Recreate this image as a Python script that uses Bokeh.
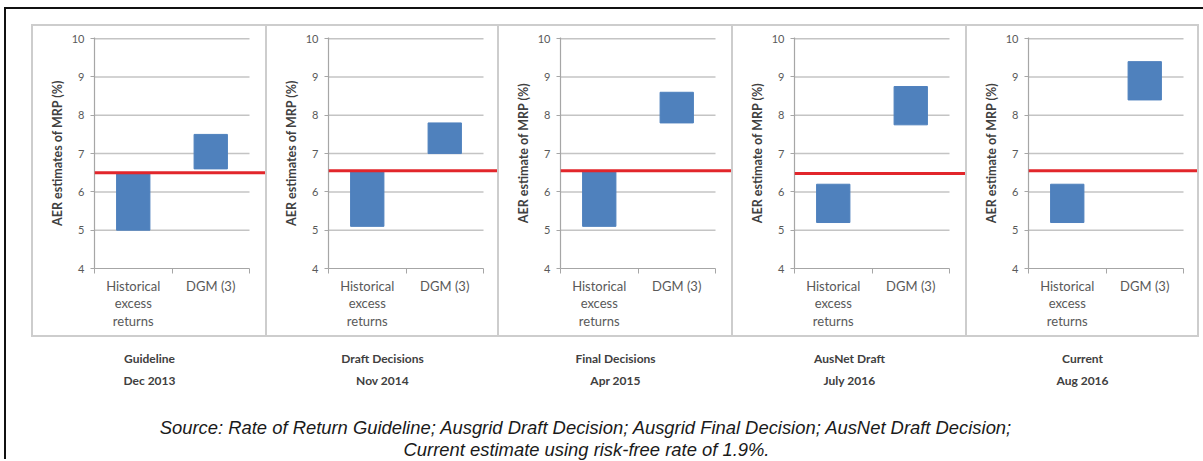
from bokeh.plotting import figure
from bokeh.models import Range1d, FixedTicker, Span, Spacer
from bokeh.layouts import row, column
from bokeh.embed import file_html
from bokeh.resources import INLINE
from bokeh.core.properties import value

# ---------------- data ----------------
categories = ["Historical\nexcess\nreturns", "DGM (3)"]
panel_titles = ["Guideline", "Draft Decisions", "Final Decisions", "AusNet Draft", "Current"]
panel_dates = ["Dec 2013", "Nov 2014", "Apr 2015", "July 2016", "Aug 2016"]
y_labels = ["AER estimates of MRP (%)", "AER estimates of MRP (%)",
            "AER estimate of MRP (%)", "AER estimate of MRP (%)", "AER estimate of MRP (%)"]
hist_low = [5.0, 5.1, 5.1, 5.2, 5.2]
hist_high = [6.5, 6.55, 6.55, 6.2, 6.2]
dgm_low = [6.6, 7.0, 7.8, 7.75, 8.4]
dgm_high = [7.5, 7.8, 8.6, 8.75, 9.4]
aer_point = [6.5, 6.55, 6.55, 6.48, 6.55]
y_ticks = [4, 5, 6, 7, 8, 9, 10]
source_lines = ["Source: Rate of Return Guideline; Ausgrid Draft Decision; Ausgrid Final Decision; AusNet Draft Decision;",
                "Current estimate using risk-free rate of 1.9%."]

# ---------------- layout constants ----------------
PANEL_W = [232, 230, 232, 232, 230]
PANEL_H = 309
AXIS_X = 61
GRID_W = 155
BORDER = 2
GRAY = "#cdcdcd"
BLUE = "#4f81bd"
RED = "#e2262b"
FONT = "Lato"


def line(w, h, color):
    return Spacer(width=w, height=h, styles={"background-color": color})


def make_panel(i, w):
    frame_w = w - AXIS_X
    n = len(categories)
    x_end = n * frame_w / GRID_W
    p = figure(width=w, height=PANEL_H, x_range=Range1d(0, x_end), y_range=Range1d(4, 10.03),
               output_backend="svg", toolbar_location=None, min_border=0,
               min_border_left=AXIS_X, min_border_right=0, min_border_top=11, min_border_bottom=67,
               outline_line_color=None, background_fill_color="white", border_fill_color="white")
    p.xgrid.visible = False
    p.ygrid.visible = False

    xs = [k + 0.5 for k in range(n)]
    # horizontal grid lines (stop at the end of the category axis)
    for t in y_ticks[1:]:
        p.segment(x0=0, x1=n, y0=t, y1=t, line_color="#c4c4c4", line_width=1.5)

    p.vbar(x=xs, width=0.43, bottom=[hist_low[i], dgm_low[i]], top=[hist_high[i], dgm_high[i]],
           fill_color=BLUE, line_color=BLUE)
    p.add_layout(Span(location=aer_point[i], dimension="width", line_color=RED, line_width=3))

    ya = p.yaxis[0]
    ya.ticker = FixedTicker(ticks=y_ticks, minor_ticks=[])
    ya.axis_label = y_labels[i]
    ya.axis_label_text_font = FONT
    ya.axis_label_text_font_style = "bold"
    ya.axis_label_text_font_size = "12.5px"
    ya.axis_label_text_color = "#404040"
    ya.axis_label_standoff = 4
    ya.major_label_text_font = FONT
    ya.major_label_text_font_size = "11px"
    ya.major_label_text_color = "#595959"
    ya.major_tick_out = 4
    ya.major_tick_in = 0
    ya.major_tick_line_color = "#a6a6a6"
    ya.major_label_standoff = 6
    ya.axis_line_color = "#a6a6a6"
    ya.axis_line_width = 1.2

    xa = p.xaxis[0]
    xa.ticker = FixedTicker(ticks=xs, minor_ticks=list(range(n + 1)))
    xa.major_label_overrides = {x: c for x, c in zip(xs, categories)}
    xa.bounds = (0, n)
    xa.major_tick_line_color = None
    xa.minor_tick_out = 5
    xa.minor_tick_in = 0
    xa.minor_tick_line_color = "#a6a6a6"
    xa.axis_line_color = "#a6a6a6"
    xa.axis_line_width = 1.2
    xa.major_label_text_font = FONT
    xa.major_label_text_font_size = "13px"
    xa.major_label_text_color = "#595959"
    xa.major_label_text_line_height = 1.12
    xa.major_label_standoff = 3
    return p


figs = [make_panel(i, w) for i, w in enumerate(PANEL_W)]
inner_children = [line(BORDER, PANEL_H, GRAY)]
for f in figs:
    inner_children += [f, line(BORDER, PANEL_H, GRAY)]
inner_w = sum(PANEL_W) + BORDER * (len(PANEL_W) + 1)
panels_box = column(line(inner_w, BORDER, GRAY), row(inner_children), line(inner_w, BORDER, GRAY))

# content region starts at page x=6, y=9
CONTENT_W = 1197
panels_block = row(Spacer(width=25, height=PANEL_H + 2 * BORDER), panels_box)

# bottom text area
BOT_H = 124
bot = figure(width=CONTENT_W, height=BOT_H, x_range=Range1d(0, CONTENT_W), y_range=Range1d(BOT_H, 0),
             output_backend="svg", toolbar_location=None, min_border=0,
             outline_line_color=None, background_fill_color="white", border_fill_color="white")
bot.axis.visible = False
bot.grid.visible = False
centers = []
x0 = 25 + BORDER
for w in PANEL_W:
    centers.append(x0 + w / 2)
    x0 += w + BORDER
bot.text(x=centers, y=[21] * len(centers), text=panel_titles, text_font=value(FONT), text_font_style="bold",
         text_font_size="12px", text_color="#404040", text_align="center", text_baseline="middle")
bot.text(x=centers, y=[43] * len(centers), text=panel_dates, text_font=value(FONT), text_font_style="bold",
         text_font_size="12px", text_color="#404040", text_align="center", text_baseline="middle")
bot.text(x=[580, 580], y=[90, 112], text=source_lines, text_font=value("Liberation Sans"),
         text_font_style="italic", text_font_size="18.4px", text_color="#1a1a1a",
         text_align="center", text_baseline="middle")

content = column(Spacer(width=CONTENT_W, height=15), panels_block, bot)
framed = column(line(CONTENT_W + 2, 2, "#111111"), row(line(2, 450, "#111111"), content))
page = column(Spacer(width=1203, height=7), row(Spacer(width=4, height=452), framed))

open("out.html", "w").write(file_html(page, INLINE))
